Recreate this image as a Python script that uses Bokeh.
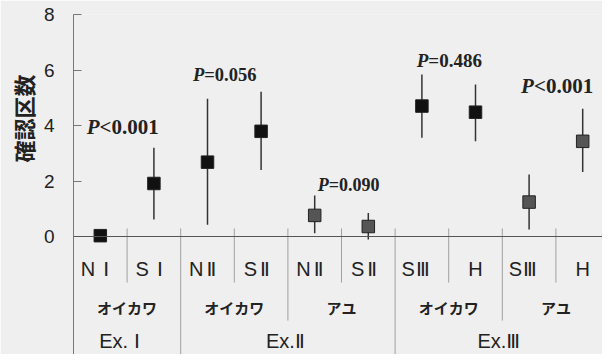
from bokeh.plotting import figure
from bokeh.models import LinearAxis, FixedTicker, Span, Title, ColumnDataSource, Range1d
from bokeh.core.properties import value
from bokeh.embed import file_html
from bokeh.resources import INLINE

# ---- data ----
categories = ["NⅠ", "SⅠ", "NⅡ", "SⅡ", "NⅡ", "SⅡ", "SⅢ", "H", "SⅢ", "H"]
species = ["オイカワ", "オイカワ", "オイカワ", "オイカワ", "アユ", "アユ",
           "オイカワ", "オイカワ", "アユ", "アユ"]
means = [0.03, 1.91, 2.68, 3.79, 0.76, 0.36, 4.70, 4.48, 1.24, 3.43]
upper = [0.03, 3.20, 4.96, 5.22, 1.48, 0.85, 5.84, 5.48, 2.23, 4.60]
lower = [0.03, 0.61, 0.42, 2.40, 0.12, -0.11, 3.56, 3.43, 0.25, 2.32]

species_groups = ["オイカワ", "オイカワ", "アユ", "オイカワ", "アユ"]
experiments = ["Ex.Ⅰ", "Ex.Ⅱ", "Ex.Ⅲ"]
p_values = ["P<0.001", "P=0.056", "P=0.090", "P=0.486", "P<0.001"]
y_ticks = [0, 2, 4, 6, 8]
y_title = "確認区数"

# ---- layout helpers ----
n = len(categories)
xc = [i + 0.5 for i in range(n)]
group_x = [2 * i + 1 for i in range(len(species_groups))]
exp_x = [1, 4, 8]
colors = ["#111111" if s == "オイカワ" else "#555555" for s in species]

BG = "#efefef"
W, H = 602, 354
LEFT, TOP = 73, 14
PX_X, PX_Y = 53.6, 27.75
p = figure(width=W, height=H, output_backend="svg", toolbar_location=None,
           x_range=Range1d(0, (W - LEFT) / PX_X),
           y_range=Range1d(8 - (H - TOP) / PX_Y, 8),
           x_axis_location=None, y_axis_location=None,
           min_border_left=LEFT, min_border_right=0, min_border_top=TOP, min_border_bottom=0)
p.background_fill_color = BG
p.border_fill_color = BG
p.outline_line_color = None
p.xgrid.visible = False
p.ygrid.visible = False

yax = LinearAxis(ticker=FixedTicker(ticks=y_ticks))
yax.axis_line_color = "#777777"
yax.major_tick_line_color = "#777777"
yax.major_tick_in = 8
yax.major_tick_out = 0
yax.minor_tick_line_color = None
yax.major_label_standoff = 19
yax.major_label_text_font = "Liberation Sans"
yax.major_label_text_font_size = "19px"
yax.major_label_text_color = "#222222"
p.add_layout(yax, "left")

p.add_layout(Title(text=y_title, align="right", vertical_align="top", offset=60, standoff=0,
                   text_font="Noto Sans CJK JP", text_font_size="22px",
                   text_font_style="bold", text_color="#222222"), "left")

# zero line
p.add_layout(Span(location=0, dimension="width", line_color="#555555", line_width=1))

# separators
sep_col = "#a0a0a0"
cat_sep = [1, 3, 5, 7, 9]
grp_sep = [4, 8]
exp_sep = [2, 6]
p.segment(x0=cat_sep, x1=cat_sep, y0=[0.29] * 5, y1=[-1.66] * 5, line_color=sep_col, line_width=1)
p.segment(x0=grp_sep, x1=grp_sep, y0=[0.29] * 2, y1=[-3.03] * 2, line_color=sep_col, line_width=1)
p.segment(x0=exp_sep, x1=exp_sep, y0=[0.29] * 2, y1=[-5.0] * 2, line_color=sep_col, line_width=1)

# error bars & markers
src = ColumnDataSource(dict(x=xc, m=means, u=upper, l=lower, c=colors))
p.segment(x0="x", x1="x", y0="l", y1="u", source=src, line_color="#333333", line_width=1.5)
p.scatter(x="x", y="m", source=src, marker="square", size=12.5, fill_color="c",
          line_color="#222222", line_width=1)

# label helper: Latin part in Liberation Sans, Roman numeral in DejaVu Sans
tc = "#222222"
NUMS = "ⅠⅡⅢ"


def split_label(s):
    i = len(s)
    while i > 0 and s[i - 1] in NUMS:
        i -= 1
    return s[:i], s[i:]


def draw_label(xs, y, labels, offs, size):
    for x, lab in zip(xs, labels):
        lat, num = split_label(lab)
        if num:
            dl, dn = offs[num]
            p.text(x=[x + dl / PX_X], y=[y], text=[lat], text_align="right",
                   text_baseline="middle", text_font=value("Liberation Sans"),
                   text_font_size=size, text_color=tc)
            p.text(x=[x + dn / PX_X], y=[y], text=[num], text_align="left",
                   text_baseline="middle", text_font=value("DejaVu Sans"),
                   text_font_size=size, text_color=tc)
        else:
            p.text(x=[x], y=[y], text=[lat], text_align="center", text_baseline="middle",
                   text_font=value("Liberation Sans"), text_font_size=size, text_color=tc)


draw_label(xc, -1.17, categories, {"Ⅰ": (-5, 3), "Ⅱ": (-4, -1), "Ⅲ": (-7, -6)}, "20px")
p.text(x=group_x, y=[-2.56] * len(group_x), text=species_groups, text_align="center",
       text_baseline="middle", text_font=value("Noto Sans CJK JP"), text_font_size="15px",
       text_font_style="bold", text_color=tc)
draw_label(exp_x, -3.75, experiments, {"Ⅰ": (1, 7), "Ⅱ": (7, 7), "Ⅲ": (4, 4)}, "20px")

# p-value annotations
px = [0.485, 2.44, 4.76, 6.62, 8.59]
py = [3.96, 5.82, 1.87, 6.34, 5.44]
psz = ["21px", "18.5px", "18px", "19px", "21px"]
for t, x, y, s in zip(p_values, px, py, psz):
    p.text(x=[x], y=[y], text=[t[0]], text_align="right", text_baseline="middle",
           text_font=value("Liberation Serif"), text_font_size=s,
           text_font_style="bold italic", text_color="#222222")
    p.text(x=[x], y=[y], text=[t[1:]], text_align="left", text_baseline="middle",
           text_font=value("Liberation Serif"), text_font_size=s,
           text_font_style="bold", text_color="#222222")

open("out.html", "w").write(file_html(p, INLINE))
